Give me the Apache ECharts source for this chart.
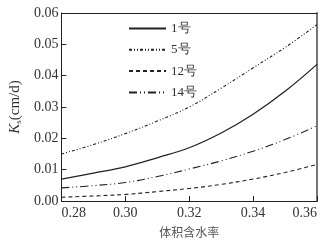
<!DOCTYPE html>
<html><head><meta charset="utf-8">
<script src="https://cdn.jsdelivr.net/npm/echarts@6/dist/echarts.min.js"></script>
<style>html,body{margin:0;padding:0;background:#fff}#c{width:328px;height:243px}</style>
</head><body><div id="c"></div>
<script>
var xValues = [0.28, 0.29, 0.30, 0.31, 0.32, 0.33, 0.34, 0.35, 0.36];
var s1 = [0.0070, 0.0089, 0.0109, 0.0138, 0.0170, 0.0217, 0.0277, 0.0350, 0.0436];
var s5 = [0.0150, 0.0180, 0.0215, 0.0255, 0.0300, 0.0360, 0.0425, 0.0490, 0.0563];
var s12 = [0.0012, 0.0016, 0.0021, 0.0030, 0.0040, 0.0053, 0.0070, 0.0091, 0.0117];
var s14 = [0.0042, 0.0049, 0.0059, 0.0078, 0.0102, 0.0128, 0.0159, 0.0196, 0.0240];
var seriesNames = ['1号', '5号', '12号', '14号'];
var yTicks = [0, 0.01, 0.02, 0.03, 0.04, 0.05, 0.06];
var xTicks = [0.28, 0.30, 0.32, 0.34, 0.36];

function pairs(arr){ return xValues.map(function(x,i){ return [x, arr[i]]; }); }
var dashes = ['solid', [3,2,1,2,1,2], [4,3], [8,3,1,3,1,3]];
var allData = [s1, s5, s12, s14];
var lineColor = '#222';
var serif = 'Liberation Serif';

var chart = echarts.init(document.getElementById('c'));
chart.setOption({
  animation: false,
  backgroundColor: '#fff',
  grid: {left: 56, right: 11, top: 13, bottom: 39},
  legend: {
    orient: 'vertical', left: 123, top: 17, itemWidth: 37, itemHeight: 12, itemGap: 8.3,
    data: seriesNames,
    textStyle: {fontFamily: serif, fontSize: 13, color: '#333'},
    itemStyle: {opacity: 0, borderWidth: 0}
  },
  xAxis: [{
    type: 'value', min: xTicks[0], max: xTicks[xTicks.length-1], interval: 0.02,
    axisLine: {show: true, lineStyle: {color: '#222', width: 1}},
    axisTick: {show: true, inside: true, length: 5, lineStyle: {color: '#222'}},
    splitLine: {show: false},
    axisLabel: {fontFamily: serif, fontSize: 14, color: '#333', margin: 5,
      alignMinLabel: 'left', alignMaxLabel: 'right',
      formatter: function(v){ return v.toFixed(2); }},
    name: '体积含水率', nameLocation: 'middle', nameGap: 25,
    nameTextStyle: {fontFamily: 'Noto Sans CJK SC', fontSize: 12, color: '#555'}
  }, {
    type: 'value', position: 'top', min: xTicks[0], max: xTicks[xTicks.length-1],
    axisLine: {show: true, onZero: false, lineStyle: {color: '#222'}},
    axisTick: {show: false}, axisLabel: {show: false}, splitLine: {show: false}
  }],
  yAxis: [{
    type: 'value', min: yTicks[0], max: yTicks[yTicks.length-1], interval: 0.01,
    axisLine: {show: true, lineStyle: {color: '#222', width: 1}},
    axisTick: {show: true, inside: true, length: 5, lineStyle: {color: '#222'}},
    splitLine: {show: false},
    axisLabel: {fontFamily: serif, fontSize: 14, color: '#333', margin: 3,
      formatter: function(v){ return v.toFixed(2); }},
    name: '{i|K}{sub|s}{n|(cm/d)}', nameLocation: 'middle', nameGap: 37,
    nameTextStyle: {rich: {
      i: {fontFamily: serif, fontStyle: 'italic', fontSize: 15, color: '#333'},
      sub: {fontFamily: serif, fontSize: 9, color: '#333', verticalAlign: 'bottom', padding: [6,0,0,0]},
      n: {fontFamily: serif, fontSize: 15, color: '#333'}
    }}
  }, {
    type: 'value', position: 'right', min: yTicks[0], max: yTicks[yTicks.length-1],
    axisLine: {show: true, onZero: false, lineStyle: {color: '#777', width: 2}},
    axisTick: {show: false}, axisLabel: {show: false}, splitLine: {show: false}
  }],
  series: seriesNames.map(function(n, k){
    return {
      name: n, type: 'line', smooth: 0.4, symbol: 'none', showSymbol: false,
      data: pairs(allData[k]),
      lineStyle: {color: lineColor, width: k === 0 ? 1.3 : 1.1, type: dashes[k]},
      itemStyle: {color: lineColor}
    };
  })
});
</script></body></html>
